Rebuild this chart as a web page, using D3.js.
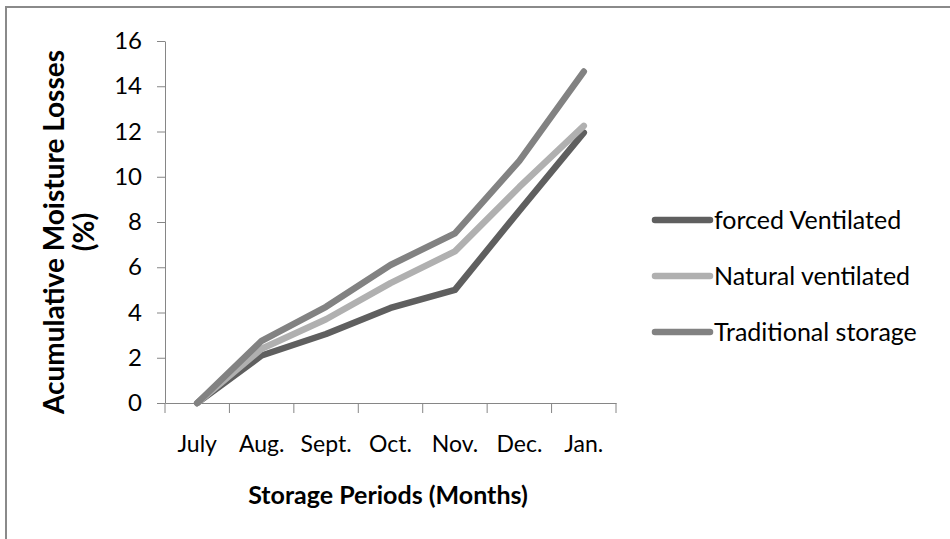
<!DOCTYPE html>
<html>
<head>
<meta charset="utf-8">
<script src="https://cdn.jsdelivr.net/npm/d3@7"></script>
<style>
  body { margin: 0; background: #fff; }
  svg { display: block; }
  text { font-family: Lato, "Open Sans", sans-serif; fill: #000; }
</style>
</head>
<body>
<div id="chart"></div>
<script>
"use strict";

// data
var months = ["July", "Aug.", "Sept.", "Oct.", "Nov.", "Dec.", "Jan."];
var seriesNames = ["forced Ventilated", "Natural ventilated", "Traditional storage"];
var forcedVentilated = [0, 2.1, 3.05, 4.2, 5.0, 8.5, 11.95];
var naturalVentilated = [0, 2.4, 3.7, 5.3, 6.7, 9.55, 12.25];
var traditionalStorage = [0, 2.75, 4.25, 6.1, 7.5, 10.7, 14.65];
var yTicks = [0, 2, 4, 6, 8, 10, 12, 14, 16];

var seriesColors = ["#5f5f5f", "#b0b0b0", "#828282"];
var axisColor = "#868686";

var width = 950, height = 539;
var margin = { left: 165, right: 334, top: 41, bottom: 136 };

var svg = d3.select("#chart")
  .append("svg")
  .attr("width", width)
  .attr("height", height);

// chart frame (right and bottom edges run off the picture)
svg.append("rect")
  .attr("x", 6)
  .attr("y", 7)
  .attr("width", 1000)
  .attr("height", 600)
  .attr("fill", "none")
  .attr("stroke", "#8a8a8a")
  .attr("stroke-width", 2);

var x = d3.scaleBand()
  .domain(months)
  .range([margin.left, width - margin.right])
  .padding(0);

var y = d3.scaleLinear()
  .domain([0, 16])
  .range([height - margin.bottom, margin.top]);

// y axis
var yAxis = svg.append("g")
  .attr("transform", "translate(" + margin.left + ",0)")
  .call(d3.axisLeft(y).tickValues(yTicks).tickSize(8).tickPadding(15).tickSizeOuter(0));
yAxis.select(".domain").attr("stroke", axisColor);
yAxis.selectAll(".tick line").attr("stroke", axisColor);
yAxis.selectAll(".tick text")
  .attr("font-size", 24)
  .attr("font-family", "Lato, sans-serif")
  .attr("fill", "#000");

// x axis: labels at band centres, ticks on the band edges
var xAxis = svg.append("g")
  .attr("transform", "translate(0," + y(0) + ")")
  .call(d3.axisBottom(x).tickSize(0).tickPadding(33).tickSizeOuter(0));
xAxis.select(".domain").attr("stroke", axisColor);
xAxis.selectAll(".tick text")
  .attr("font-size", 23)
  .attr("font-family", "Lato, sans-serif")
  .attr("fill", "#000");

var edges = months.map(function(m) { return x(m); }).concat([x.range()[1]]);
xAxis.selectAll(".edge")
  .data(edges)
  .enter()
  .append("line")
    .attr("class", "edge")
    .attr("x1", function(d) { return d; })
    .attr("x2", function(d) { return d; })
    .attr("y1", 0)
    .attr("y2", 10)
    .attr("stroke", axisColor);

// axis titles
svg.append("text")
  .attr("x", 388)
  .attr("y", 504)
  .attr("text-anchor", "middle")
  .attr("font-size", 25)
  .attr("font-weight", "bold")
  .text("Storage Periods (Months)");

var yTitle = svg.append("text")
  .attr("transform", "translate(0," + 232 + ") rotate(-90)")
  .attr("text-anchor", "middle")
  .attr("font-size", 28)
  .attr("font-weight", "bold");
yTitle.append("tspan").attr("x", 0).attr("y", 64).text("Acumulative Moisture Losses");
yTitle.append("tspan").attr("x", 0).attr("y", 94).text("(%)");

// series lines
var series = [forcedVentilated, naturalVentilated, traditionalStorage];
var line = d3.line()
  .x(function(d, i) { return x(months[i]) + x.bandwidth() / 2; })
  .y(function(d) { return y(d); });

svg.append("g")
  .selectAll("path")
  .data(series)
  .enter()
  .append("path")
    .attr("d", line)
    .attr("fill", "none")
    .attr("stroke", function(d, i) { return seriesColors[i]; })
    .attr("stroke-width", 6.5)
    .attr("stroke-linecap", "round")
    .attr("stroke-linejoin", "round");

// legend
var legend = svg.append("g")
  .selectAll("g")
  .data(seriesNames)
  .enter()
  .append("g")
    .attr("transform", function(d, i) { return "translate(655," + (220 + i * 56) + ")"; });

legend.append("line")
  .attr("x1", 0)
  .attr("x2", 55)
  .attr("stroke", function(d, i) { return seriesColors[i]; })
  .attr("stroke-width", 6.5)
  .attr("stroke-linecap", "round");

legend.append("text")
  .attr("x", 59)
  .attr("y", 9)
  .attr("font-size", 25)
  .text(function(d) { return d; });
</script>
</body>
</html>
